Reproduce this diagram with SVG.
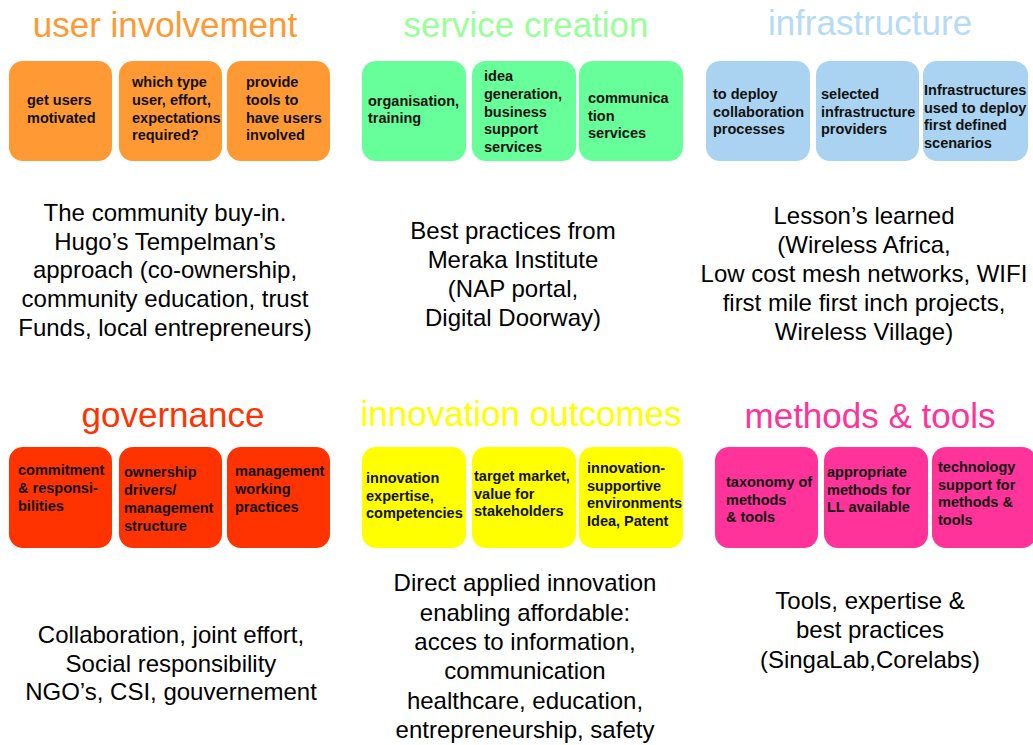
<svg xmlns="http://www.w3.org/2000/svg" width="1033" height="745" viewBox="0 0 1033 745">
  <style>
    .head { font-family: "Liberation Sans", Arial, sans-serif; font-size: 35px; text-anchor: middle; }
    .lbl { font-family: "Liberation Sans", Arial, sans-serif; font-size: 14.5px; font-weight: bold; fill: #111; }
    .body { font-family: "Liberation Sans", Arial, sans-serif; font-size: 24px; text-anchor: middle; fill: #000; }
    .orange { fill: #FF9933; }
    .green { fill: #66FF99; }
    .blue { fill: #A9D3F0; }
    .red { fill: #FF3300; }
    .yellow { fill: #FFFF00; }
    .pink { fill: #FF3399; }
  </style>
  <rect width="1033" height="745" fill="#ffffff"/>

  <!-- user involvement -->
  <g id="user-involvement">
    <text class="head" x="165" y="37" fill="#FF9933">user involvement</text>
    <g id="ui-motivated">
      <rect class="orange" x="9" y="61" width="103" height="100" rx="14"/>
      <text class="lbl" x="27" y="105">get users</text>
      <text class="lbl" x="27" y="123">motivated</text>
    </g>
    <g id="ui-type">
      <rect class="orange" x="119" y="61" width="103" height="100" rx="14"/>
      <text class="lbl" x="132" y="87">which type</text>
      <text class="lbl" x="132" y="105">user, effort,</text>
      <text class="lbl" x="132" y="123">expectations</text>
      <text class="lbl" x="132" y="140">required?</text>
    </g>
    <g id="ui-tools">
      <rect class="orange" x="227" y="61" width="103" height="100" rx="14"/>
      <text class="lbl" x="246" y="87">provide</text>
      <text class="lbl" x="246" y="105">tools to</text>
      <text class="lbl" x="246" y="123">have users</text>
      <text class="lbl" x="246" y="140">involved</text>
    </g>
    <g id="ui-notes">
      <text class="body" x="165" y="221">The community buy-in.</text>
      <text class="body" x="165" y="250">Hugo’s Tempelman’s</text>
      <text class="body" x="165" y="278">approach (co-ownership,</text>
      <text class="body" x="165" y="307">community education, trust</text>
      <text class="body" x="165" y="336">Funds, local entrepreneurs)</text>
    </g>
  </g>

  <!-- service creation -->
  <g id="service-creation">
    <text class="head" x="526" y="37" fill="#99FF99">service creation</text>
    <g id="sc-organisation">
      <rect class="green" x="362" y="61" width="104" height="100" rx="14"/>
      <text class="lbl" x="368" y="106">organisation,</text>
      <text class="lbl" x="368" y="123">training</text>
    </g>
    <g id="sc-idea">
      <rect class="green" x="472" y="61" width="104" height="100" rx="14"/>
      <text class="lbl" x="484" y="81">idea</text>
      <text class="lbl" x="484" y="99">generation,</text>
      <text class="lbl" x="484" y="117">business</text>
      <text class="lbl" x="484" y="134">support</text>
      <text class="lbl" x="484" y="152">services</text>
    </g>
    <g id="sc-communication">
      <rect class="green" x="579" y="61" width="104" height="100" rx="14"/>
      <text class="lbl" x="588" y="103">communica</text>
      <text class="lbl" x="588" y="121">tion</text>
      <text class="lbl" x="588" y="138">services</text>
    </g>
    <g id="sc-notes">
      <text class="body" x="513" y="239">Best practices from</text>
      <text class="body" x="513" y="268">Meraka Institute</text>
      <text class="body" x="513" y="297">(NAP portal,</text>
      <text class="body" x="513" y="326">Digital Doorway)</text>
    </g>
  </g>

  <!-- infrastructure -->
  <g id="infrastructure">
    <text class="head" x="870" y="35" fill="#B5DBF5">infrastructure</text>
    <g id="in-deploy">
      <rect class="blue" x="706" y="61" width="104" height="100" rx="14"/>
      <text class="lbl" x="713" y="99">to deploy</text>
      <text class="lbl" x="713" y="117">collaboration</text>
      <text class="lbl" x="713" y="134">processes</text>
    </g>
    <g id="in-providers">
      <rect class="blue" x="816" y="61" width="103" height="100" rx="14"/>
      <text class="lbl" x="821" y="99">selected</text>
      <text class="lbl" x="821" y="117">infrastructure</text>
      <text class="lbl" x="821" y="134">providers</text>
    </g>
    <g id="in-scenarios">
      <rect class="blue" x="923" y="61" width="105" height="100" rx="14"/>
      <text class="lbl" x="924" y="95">Infrastructures</text>
      <text class="lbl" x="924" y="113">used to deploy</text>
      <text class="lbl" x="924" y="130">first defined</text>
      <text class="lbl" x="924" y="148">scenarios</text>
    </g>
    <g id="in-notes">
      <text class="body" x="864" y="224">Lesson’s learned</text>
      <text class="body" x="864" y="253">(Wireless Africa,</text>
      <text class="body" x="864" y="282">Low cost mesh networks, WIFI</text>
      <text class="body" x="864" y="311">first mile first inch projects,</text>
      <text class="body" x="864" y="340">Wireless Village)</text>
    </g>
  </g>

  <!-- governance -->
  <g id="governance">
    <text class="head" x="173" y="427" fill="#FF3300">governance</text>
    <g id="gv-commitment">
      <rect class="red" x="9" y="447" width="103" height="101" rx="14"/>
      <text class="lbl" x="18" y="475">commitment</text>
      <text class="lbl" x="18" y="493">&amp; responsi-</text>
      <text class="lbl" x="18" y="511">bilities</text>
    </g>
    <g id="gv-ownership">
      <rect class="red" x="119" y="447" width="103" height="101" rx="14"/>
      <text class="lbl" x="124" y="477">ownership</text>
      <text class="lbl" x="124" y="495">drivers/</text>
      <text class="lbl" x="124" y="513">management</text>
      <text class="lbl" x="124" y="531">structure</text>
    </g>
    <g id="gv-management">
      <rect class="red" x="227" y="447" width="103" height="101" rx="14"/>
      <text class="lbl" x="235" y="476">management</text>
      <text class="lbl" x="235" y="494">working</text>
      <text class="lbl" x="235" y="512">practices</text>
    </g>
    <g id="gv-notes">
      <text class="body" x="171" y="643">Collaboration, joint effort,</text>
      <text class="body" x="171" y="672">Social responsibility</text>
      <text class="body" x="171" y="700">NGO’s, CSI, gouvernement</text>
    </g>
  </g>

  <!-- innovation outcomes -->
  <g id="innovation-outcomes">
    <text class="head" x="521" y="426" fill="#FFFF00">innovation outcomes</text>
    <g id="io-expertise">
      <rect class="yellow" x="362" y="447" width="104" height="101" rx="14"/>
      <text class="lbl" x="366" y="483">innovation</text>
      <text class="lbl" x="366" y="501">expertise,</text>
      <text class="lbl" x="366" y="518">competencies</text>
    </g>
    <g id="io-market">
      <rect class="yellow" x="472" y="447" width="104" height="101" rx="14"/>
      <text class="lbl" x="474" y="481">target market,</text>
      <text class="lbl" x="474" y="499">value for</text>
      <text class="lbl" x="474" y="516">stakeholders</text>
    </g>
    <g id="io-environments">
      <rect class="yellow" x="579" y="447" width="104" height="101" rx="14"/>
      <text class="lbl" x="587" y="473">innovation-</text>
      <text class="lbl" x="587" y="491">supportive</text>
      <text class="lbl" x="587" y="508">environments</text>
      <text class="lbl" x="587" y="526">Idea, Patent</text>
    </g>
    <g id="io-notes">
      <text class="body" x="525" y="591">Direct applied innovation</text>
      <text class="body" x="525" y="621">enabling affordable:</text>
      <text class="body" x="525" y="650">acces to information,</text>
      <text class="body" x="525" y="679">communication</text>
      <text class="body" x="525" y="709">healthcare, education,</text>
      <text class="body" x="525" y="738">entrepreneurship, safety</text>
    </g>
  </g>

  <!-- methods & tools -->
  <g id="methods-tools">
    <text class="head" x="870" y="428" fill="#FF3399">methods &amp; tools</text>
    <g id="mt-taxonomy">
      <rect class="pink" x="715" y="447" width="103" height="101" rx="14"/>
      <text class="lbl" x="726" y="487">taxonomy of</text>
      <text class="lbl" x="726" y="505">methods</text>
      <text class="lbl" x="726" y="522">&amp; tools</text>
    </g>
    <g id="mt-appropriate">
      <rect class="pink" x="824" y="447" width="104" height="101" rx="14"/>
      <text class="lbl" x="827" y="477">appropriate</text>
      <text class="lbl" x="827" y="495">methods for</text>
      <text class="lbl" x="827" y="512">LL available</text>
    </g>
    <g id="mt-technology">
      <rect class="pink" x="932" y="447" width="104" height="101" rx="14"/>
      <text class="lbl" x="938" y="472">technology</text>
      <text class="lbl" x="938" y="490">support for</text>
      <text class="lbl" x="938" y="507">methods &amp;</text>
      <text class="lbl" x="938" y="525">tools</text>
    </g>
    <g id="mt-notes">
      <text class="body" x="870" y="609">Tools, expertise &amp;</text>
      <text class="body" x="870" y="638">best practices</text>
      <text class="body" x="870" y="668">(SingaLab,Corelabs)</text>
    </g>
  </g>

  <!-- no connectors in this chart -->
  <g id="connectors"/>
</svg>
